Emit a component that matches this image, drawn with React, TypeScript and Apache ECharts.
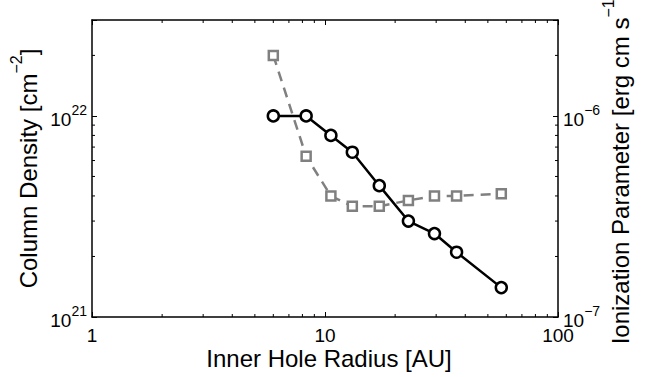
import React, { useEffect, useRef } from 'react';
import * as echarts from 'echarts';

const radiusAU = [6.0, 8.3, 10.6, 13.1, 17.1, 22.8, 29.5, 36.7, 57.1];
const columnDensity = [1.0e22, 1.0e22, 8.0e21, 6.6e21, 4.5e21, 3.0e21, 2.6e21, 2.1e21, 1.4e21];
const ionizationParam = [2.0e-6, 6.3e-7, 4.0e-7, 3.55e-7, 3.55e-7, 3.8e-7, 4.0e-7, 4.0e-7, 4.1e-7];

const xMin = 1;
const xMax = 100;
const yLeftMin = 1e21;
const yLeftMax = 3e22;
const yRightMin = 1e-7;
const yRightMax = 3e-6;

const FONT = '"Liberation Sans", Arial, Helvetica, sans-serif';

function powLabel(v: number): string {
  const e = Math.log10(v);
  const r = Math.round(e);
  if (Math.abs(e - r) > 1e-6) return '';
  const s = r < 0 ? '\u2212' + Math.abs(r) : String(r);
  return `{b|10}{s|${s}}`;
}

const powRich = {
  b: { fontSize: 19, lineHeight: 26, verticalAlign: 'bottom', color: '#000', fontFamily: FONT },
  s: { fontSize: 14, lineHeight: 14, verticalAlign: 'top', color: '#000', fontFamily: FONT },
};

const nameRich = {
  t: { fontSize: 24, lineHeight: 32, verticalAlign: 'bottom', color: '#000', fontFamily: FONT },
  s: { fontSize: 16, lineHeight: 17, verticalAlign: 'top', color: '#000', fontFamily: FONT },
};

export default function App() {
  const ref = useRef<HTMLDivElement>(null);
  useEffect(() => {
    if (!ref.current) return;
    const chart = echarts.init(ref.current, null, { renderer: 'svg' });
    const axisLine = { show: true, lineStyle: { color: '#000', width: 1.5 } };
    const tick = { show: true, inside: true, length: 5, lineStyle: { color: '#000', width: 1 } };
    const option: any = {
      animation: false,
      backgroundColor: '#fff',
      textStyle: { fontFamily: FONT, color: '#000' },
      grid: { left: 92, right: 87, top: 20, bottom: 60, containLabel: false, outerBoundsMode: 'none' },
      xAxis: [
        {
          type: 'log', logBase: 10, min: xMin, max: xMax, position: 'bottom',
          axisLine, axisTick: tick, splitLine: { show: false },
          axisLabel: { fontSize: 19, color: '#000', margin: 9, fontFamily: FONT,
            formatter: (v: number) => String(Math.round(v)) },
          name: 'Inner Hole Radius [AU]', nameLocation: 'middle', nameGap: 29, nameMoveOverlap: false,
          nameTextStyle: { fontSize: 24, color: '#000', fontFamily: FONT, padding: [0, 0, 0, 8] },
        },
        {
          type: 'log', logBase: 10, min: xMin, max: xMax, position: 'top',
          axisLine, axisTick: tick, splitLine: { show: false }, axisLabel: { show: false },
        },
      ],
      yAxis: [
        {
          type: 'log', logBase: 10, min: yLeftMin, max: yLeftMax, position: 'left',
          axisLine, axisTick: tick, splitLine: { show: false },
          axisLabel: { margin: 5, formatter: powLabel, rich: powRich, fontSize: 19 },
          name: '{t|Column Density [cm}{s|\u22122}{t|]}', nameLocation: 'middle', nameGap: 52, nameRotate: 90,
          nameMoveOverlap: false,
          nameTextStyle: { rich: nameRich, fontSize: 24 },
        },
        {
          type: 'log', logBase: 10, min: yRightMin, max: yRightMax, position: 'right',
          axisLine, axisTick: tick, splitLine: { show: false },
          axisLabel: { margin: 5, formatter: powLabel, rich: powRich, fontSize: 19 },
          name: '{t|Ionization Parameter [erg cm s}{s|\u22121}{t|]}', nameLocation: 'middle', nameGap: 42, nameRotate: 90,
          nameMoveOverlap: false,
          nameTextStyle: { rich: nameRich, fontSize: 24 },
        },
      ],
      series: [
        {
          name: 'Ionization Parameter', type: 'line', xAxisIndex: 0, yAxisIndex: 1,
          data: radiusAU.map((x, i) => [x, ionizationParam[i]]),
          lineStyle: { color: '#808080', width: 2.5, type: [10, 7] },
          symbol: 'rect', symbolSize: 9,
          itemStyle: { color: '#fff', borderColor: '#808080', borderWidth: 2.5 },
          z: 2,
        },
        {
          name: 'Column Density', type: 'line', xAxisIndex: 0, yAxisIndex: 0,
          data: radiusAU.map((x, i) => [x, columnDensity[i]]),
          lineStyle: { color: '#000', width: 2.5 },
          symbol: 'circle', symbolSize: 11,
          itemStyle: { color: '#fff', borderColor: '#000', borderWidth: 2.5 },
          z: 3,
        },
      ],
    };
    chart.setOption(option);

    // minor ticks (log 2..9) positioned via the axes' own scales
    const minorLen = 3;
    const lines: any[] = [];
    const ln = (x1: number, y1: number, x2: number, y2: number) => lines.push({
      type: 'line', silent: true, z: 10,
      shape: { x1, y1, x2, y2 }, style: { stroke: '#000', lineWidth: 1 },
    });
    const yb = chart.convertToPixel({ yAxisIndex: 0 }, yLeftMin) as number;
    const yt = chart.convertToPixel({ yAxisIndex: 0 }, yLeftMax) as number;
    const xl = chart.convertToPixel({ xAxisIndex: 0 }, xMin) as number;
    const xr = chart.convertToPixel({ xAxisIndex: 0 }, xMax) as number;
    for (let d = xMin; d < xMax; d *= 10) {
      for (let k = 2; k <= 9; k++) {
        const px = chart.convertToPixel({ xAxisIndex: 0 }, d * k) as number;
        ln(px, yb, px, yb - minorLen);
        ln(px, yt, px, yt + minorLen);
      }
    }
    for (let d = yLeftMin; d < yLeftMax; d *= 10) {
      for (let k = 2; k <= 9; k++) {
        if (d * k >= yLeftMax * 0.999) break;
        const py = chart.convertToPixel({ yAxisIndex: 0 }, d * k) as number;
        ln(xl, py, xl + minorLen, py);
      }
    }
    for (let d = yRightMin; d < yRightMax; d *= 10) {
      for (let k = 2; k <= 9; k++) {
        if (d * k >= yRightMax * 0.999) break;
        const py = chart.convertToPixel({ yAxisIndex: 1 }, d * k) as number;
        ln(xr, py, xr - minorLen, py);
      }
    }
    chart.setOption({ graphic: lines });

    return () => chart.dispose();
  }, []);
  return <div ref={ref} style={{ position: 'fixed', left: 0, top: 0, width: 645, height: 377 }} />;
}
